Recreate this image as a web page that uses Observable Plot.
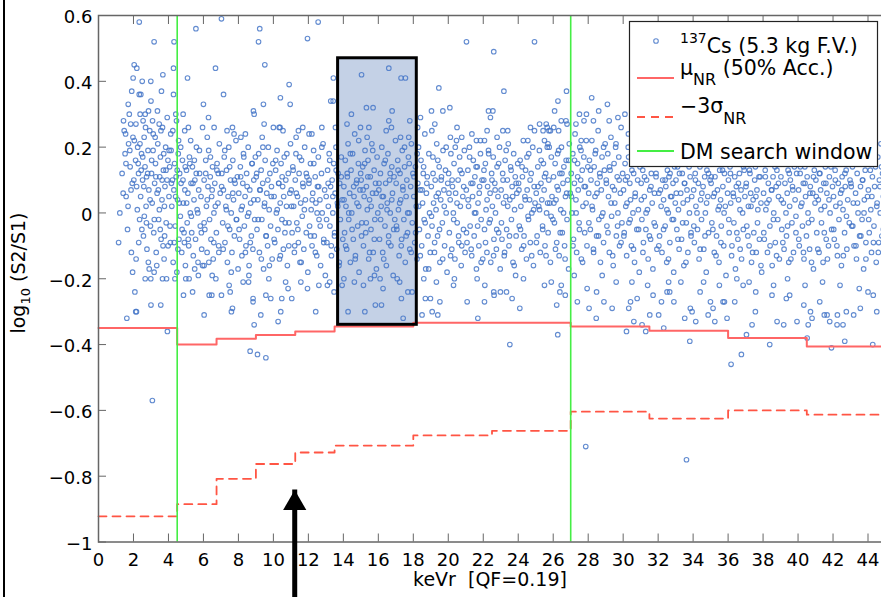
<!DOCTYPE html>
<html><head><meta charset="utf-8">
<script src="https://cdn.jsdelivr.net/npm/d3@7"></script>
<script src="https://cdn.jsdelivr.net/npm/@observablehq/plot@0.6"></script>
<style>
html,body{margin:0;padding:0;background:#fff;overflow:hidden;width:881px;height:597px}
#wrap{position:relative;width:881px;height:597px;overflow:hidden}
#chart{width:890px;height:597px}
#chart svg{display:block;max-width:none !important}
#overlay{position:absolute;left:0;top:0}
#leftrule{position:absolute;left:3px;top:0;width:2px;height:597px;background:#000}
</style></head>
<body><div id="wrap"><div id="chart"></div>
<svg id="overlay" width="881" height="597" font-family="DejaVu Sans, sans-serif">
  <text transform="translate(25,273) rotate(-90)" text-anchor="middle" font-size="19" fill="#000">log<tspan font-size="13" dy="5">10</tspan><tspan dy="-5"> (S2/S1)</tspan></text>
  <text x="490" y="586" text-anchor="middle" font-size="19" fill="#000" style="white-space:pre">keVr  [QF=0.19]</text>
  <g id="legend">
    <rect x="629.5" y="21.5" width="248" height="145" fill="#fff" stroke="#222" stroke-width="1.2"/>
    <circle cx="656" cy="41" r="2.3" fill="none" stroke="#4677c8" stroke-opacity="0.85" stroke-width="1.1"/>
    <text x="680" y="53" font-size="20.5" fill="#000"><tspan font-size="14" dy="-10">137</tspan><tspan dy="10">Cs (5.3 kg F.V.)</tspan></text>
    <line x1="637" x2="674" y1="78" y2="78" stroke="#ff6666" stroke-width="2"/>
    <text x="680" y="75" font-size="20.5" fill="#000">μ<tspan font-size="16" dy="10">NR</tspan><tspan dy="-10"> (50% Acc.)</tspan></text>
    <line x1="637" x2="674" y1="117" y2="117" stroke="#ff5544" stroke-width="1.8" stroke-dasharray="8,6"/>
    <text x="680" y="113" font-size="20.5" fill="#000">−3σ<tspan font-size="16" dy="11">NR</tspan></text>
    <line x1="637" x2="674" y1="151" y2="151" stroke="#44ee44" stroke-width="2"/>
    <text x="680" y="159" font-size="20.5" fill="#000">DM search window</text>
  </g>
</svg>
<div id="leftrule"></div></div>
<script>
// ---- data ----
const xTicks = [0,2,4,6,8,10,12,14,16,18,20,22,24,26,28,30,32,34,36,38,40,42,44];
const yTicks = [-1,-0.8,-0.6,-0.4,-0.2,0,0.2,0.4,0.6];
const binEdges = [0,4.5,6.75,9,11.25,13.5,18,22.5,27,31.5,36,40.5,45];
const muNR    = [-0.350,-0.400,-0.382,-0.371,-0.360,-0.345,-0.334,-0.334,-0.345,-0.358,-0.380,-0.406];
const sigmaNR = [-0.922,-0.885,-0.808,-0.763,-0.728,-0.707,-0.676,-0.662,-0.604,-0.625,-0.600,-0.613];
const dmWindow = [4.5, 27];
const boxX = [13.7, 18.2];
const boxY = [-0.34, 0.47];
const arrowX = 11.22, arrowTip = -0.842, arrowTail = -1.2;

const cs137 = [
[1.15,-.09],[1.22,.0],[1.43,.28],[1.47,.25],[1.62,-.32],[1.7,.33],[1.76,.3],[1.84,.27],[1.9,.37],[1.98,.41],[1.35,.12],[1.52,.18],[1.58,.05],[1.66,-.05],[1.72,.21],[1.81,.14],[1.88,-.12],[1.93,.09],[1.55,.24],[1.95,-.18],
[2.04,.45],[2.19,.44],[2.33,.58],[2.33,.36],[2.42,.36],[2.38,.3],[2.5,.4],[2.67,.3],[2.08,-.24],[2.17,-.3],[2.13,-.3],[2.67,-.2],[2.9,-.17],[2.05,.22],[2.12,.16],[2.18,.08],[2.24,.2],[2.29,.12],[2.35,-.02],[2.41,.05],[2.46,.18],[2.52,.1],[2.57,-.07],[2.61,.23],[2.66,.14],[2.72,.02],[2.77,-.11],[2.83,.19],[2.88,.07],[2.93,.25],[2.97,-.04],[2.15,-.14],[2.55,.28],[2.75,.11],[2.3,-.09],[2.85,-.15],[2.44,.13],[2.62,-.01],
[3.18,.52],[2.99,.4],[3.0,.34],[3.09,.28],[3.47,.27],[3.66,.26],[3.6,.37],[3.68,.42],[3.0,-.28],[3.56,-.28],[3.94,-.36],[3.08,-.57],[3.18,-.18],[2.99,-.2],[3.66,-.2],[3.89,-.2],[3.03,.12],[3.07,.03],[3.12,.19],[3.16,-.06],[3.21,.09],[3.26,.15],[3.3,-.12],[3.35,.06],[3.39,.21],[3.44,-.02],[3.5,.11],[3.54,.17],[3.58,-.08],[3.63,.04],[3.71,.13],[3.75,-.14],[3.8,.08],[3.84,.2],[3.87,-.03],[3.92,.1],[3.97,.16],[3.33,-.16],[3.48,.01],[3.77,.02],[3.24,.23],[3.69,-.1],
[4.29,.44],[4.32,.52],[4.29,.36],[4.42,.3],[4.46,.28],[4.84,.3],[4.93,.25],[4.86,-.25],[4.99,-.2],[4.03,.05],[4.07,.14],[4.11,-.09],[4.15,.19],[4.19,.02],[4.23,.1],[4.27,-.15],[4.31,.07],[4.35,.15],[4.39,-.04],[4.44,.11],[4.48,-.18],[4.52,.04],[4.56,.18],[4.6,-.08],[4.64,.12],[4.68,-.01],[4.72,.09],[4.76,-.12],[4.8,.16],[4.85,.03],[4.89,-.06],[4.94,.07],[4.97,-.16],[4.13,.24],[4.58,.22],[4.37,-.2],
[5.09,.41],[5.14,.26],[5.57,.56],[5.38,-.24],[5.18,-.2],[5.95,-.16],[5.95,.26],[5.03,.13],[5.07,-.03],[5.11,.06],[5.16,-.1],[5.2,.17],[5.25,.0],[5.29,.09],[5.33,-.06],[5.37,.14],[5.42,-.13],[5.46,.04],[5.51,.1],[5.55,-.08],[5.6,.2],[5.64,.01],[5.69,-.15],[5.73,.07],[5.78,.12],[5.82,-.04],[5.86,.05],[5.9,-.11],[5.27,.22],[5.71,-.19],[5.48,.16],
[6.0,.33],[6.29,.29],[6.61,.26],[6.69,.44],[6.04,-.31],[6.04,-.16],[6.33,-.25],[6.48,-.25],[6.71,-.2],[6.04,.1],[6.08,-.05],[6.13,.16],[6.17,.02],[6.21,-.12],[6.26,.08],[6.3,.19],[6.35,-.02],[6.39,.11],[6.43,-.08],[6.47,.05],[6.52,.14],[6.56,-.14],[6.6,.0],[6.65,.09],[6.74,-.06],[6.78,.15],[6.83,.03],[6.87,-.1],[6.91,.21],[6.96,.06],[6.22,.23],[6.5,-.19],[6.85,.12],
[7.03,.59],[7.15,.36],[7.66,.26],[7.03,-.25],[7.53,-.24],[7.66,-.29],[7.6,-.3],[7.47,-.22],[7.05,.12],[7.1,-.03],[7.14,.07],[7.19,.17],[7.23,-.09],[7.28,.02],[7.32,.13],[7.37,-.15],[7.41,.05],[7.45,.2],[7.5,-.05],[7.55,.1],[7.59,.0],[7.63,-.12],[7.68,.16],[7.72,.04],[7.77,-.07],[7.81,.09],[7.86,.22],[7.9,-.02],[7.94,.11],[7.98,-.17],[7.35,.25],[7.75,.24],
[8.14,.23],[8.86,.31],[8.9,.3],[8.27,-.21],[8.58,-.21],[8.84,-.26],[8.84,-.27],[8.9,-.34],[8.67,-.42],[8.02,.06],[8.07,-.08],[8.11,.14],[8.16,.01],[8.2,-.13],[8.25,.09],[8.29,.18],[8.34,-.04],[8.38,.05],[8.43,-.1],[8.47,.12],[8.52,-.01],[8.56,.2],[8.61,-.16],[8.65,.07],[8.7,.03],[8.74,-.07],[8.79,.15],[8.83,-.11],[8.88,.1],[8.93,-.02],[8.97,.17],[8.4,.24],[8.6,-.19],
[9.22,.56],[9.15,.52],[9.51,.45],[9.43,.33],[9.47,.27],[9.28,-.31],[9.57,-.25],[9.85,-.26],[9.09,-.43],[9.57,-.44],[9.02,.11],[9.06,-.05],[9.11,.04],[9.16,.18],[9.2,-.12],[9.25,.07],[9.3,.13],[9.34,-.02],[9.39,.09],[9.44,-.17],[9.48,.02],[9.53,.16],[9.58,-.07],[9.62,.06],[9.67,-.1],[9.71,.2],[9.76,.01],[9.8,.12],[9.84,-.04],[9.89,.08],[9.93,-.14],[9.97,.15],[9.36,.23],[9.74,-.2],
[10.0,.26],[10.33,.26],[10.38,.26],[10.4,.35],[10.9,.39],[10.96,.33],[10.27,-.33],[10.48,-.26],[10.84,-.23],[10.42,-.3],[10.04,.05],[10.08,-.09],[10.13,.13],[10.17,.0],[10.21,.19],[10.26,-.05],[10.3,.09],[10.35,-.14],[10.39,.03],[10.44,.15],[10.49,-.02],[10.53,.08],[10.57,-.11],[10.62,.17],[10.66,-.06],[10.71,.1],[10.75,.02],[10.8,-.16],[10.85,.12],[10.89,-.03],[10.94,.06],[10.98,.21],[10.55,.25],[10.7,-.21],
[11.43,.25],[11.95,.53],[11.05,-.26],[11.57,-.21],[11.95,-.23],[11.02,.07],[11.07,-.06],[11.11,.14],[11.16,.02],[11.2,-.12],[11.25,.1],[11.29,.18],[11.34,-.03],[11.38,.05],[11.43,-.09],[11.47,.12],[11.52,-.15],[11.56,.03],[11.61,.16],[11.65,-.01],[11.7,.08],[11.74,-.11],[11.79,.2],[11.83,.04],[11.88,-.06],[11.92,.11],[11.97,-.18],[11.3,.23],[11.68,.26],
[12.04,.24],[12.56,.58],[12.77,.26],[12.42,-.3],[12.03,.09],[12.07,-.04],[12.12,.15],[12.16,.01],[12.21,-.1],[12.25,.06],[12.3,.19],[12.34,-.07],[12.39,.11],[12.43,.03],[12.48,-.13],[12.52,.08],[12.57,.17],[12.61,-.02],[12.66,.04],[12.7,-.16],[12.75,.12],[12.79,.0],[12.84,.21],[12.88,-.08],[12.93,.07],[12.97,-.19],[12.2,.24],[12.6,-.22],
[13.28,.34],[13.43,.41],[13.42,.34],[13.22,-.21],[13.09,-.22],[13.47,-.24],[13.02,.05],[13.06,-.09],[13.1,.13],[13.14,.02],[13.19,.18],[13.23,-.04],[13.27,.08],[13.32,-.13],[13.36,.1],[13.4,.0],[13.45,.15],[13.49,-.07],[13.53,.06],[13.58,.2],[13.62,-.11],[13.66,.03],[13.7,.12],[13.75,-.16],[13.79,.09],[13.83,-.02],[13.88,.17],[13.93,.04],[13.97,-.08],[13.93,-.22],[13.55,.26],
[14.46,.3],[14.98,.26],[14.27,-.3],[14.03,-.2],[14.03,.08],[14.07,-.06],[14.11,.16],[14.15,.02],[14.19,-.11],[14.23,.11],[14.27,.21],[14.31,-.02],[14.36,.06],[14.4,-.15],[14.44,.13],[14.48,.0],[14.53,.18],[14.57,-.08],[14.61,.05],[14.65,.24],[14.69,-.13],[14.74,.09],[14.78,.03],[14.82,-.04],[14.86,.15],[14.9,-.18],[14.95,.07],[14.99,.12],[14.21,.27],[14.63,-.21],[14.88,.22],
[15.04,.42],[15.32,.32],[15.7,.32],[15.36,.23],[15.23,-.3],[15.55,-.2],[15.78,-.19],[15.83,-.28],[16.18,-.28],[15.02,.1],[15.06,-.03],[15.11,.14],[15.15,-.1],[15.19,.05],[15.24,.19],[15.28,-.06],[15.32,.08],[15.37,.01],[15.41,.16],[15.45,-.14],[15.5,.04],[15.54,.11],[15.58,-.05],[15.63,.21],[15.67,.06],[15.71,-.12],[15.76,.13],[15.8,-.02],[15.84,.09],[15.89,-.17],[15.93,.17],[15.97,.0],[15.46,.26],[15.15,-.22],
[16.6,.44],[16.79,.31],[16.6,.28],[16.75,.26],[16.27,-.23],[16.03,.07],[16.07,-.08],[16.12,.12],[16.16,.02],[16.2,.2],[16.25,-.12],[16.29,.05],[16.33,.15],[16.38,-.04],[16.42,.09],[16.46,-.16],[16.51,.03],[16.55,.18],[16.59,-.07],[16.64,.1],[16.68,.0],[16.72,-.1],[16.77,.14],[16.81,.06],[16.85,-.19],[16.9,.11],[16.94,-.02],[16.98,.22],[16.45,.25],[16.1,-.2],
[17.3,.41],[17.55,.41],[17.8,.28],[17.27,.23],[17.74,.23],[17.42,-.32],[17.32,-.26],[17.08,-.2],[17.22,-.21],[17.69,-.24],[17.93,-.24],[17.02,.09],[17.06,-.05],[17.11,.16],[17.15,.01],[17.19,-.13],[17.24,.12],[17.28,.04],[17.33,-.08],[17.37,.19],[17.41,.07],[17.46,-.02],[17.5,.14],[17.54,-.15],[17.59,.05],[17.63,.1],[17.67,-.06],[17.72,.17],[17.76,.0],[17.8,-.11],[17.85,.08],[17.89,.21],[17.94,-.03],[17.98,.12],
[18.41,.29],[18.5,-.31],[18.69,-.26],[18.98,-.26],[18.03,.05],[18.08,-.09],[18.12,.14],[18.17,.02],[18.21,-.14],[18.26,.09],[18.3,.2],[18.35,-.05],[18.39,.07],[18.44,.16],[18.48,-.1],[18.53,.03],[18.57,.12],[18.62,-.02],[18.66,.24],[18.71,-.17],[18.75,.06],[18.8,.11],[18.84,-.07],[18.89,.18],[18.93,.0],[18.97,-.12],[18.25,.26],[18.6,-.2],
[19.04,.31],[19.23,.27],[19.06,.25],[19.46,.38],[19.69,.31],[19.08,-.3],[19.4,-.31],[19.52,-.27],[19.32,-.21],[19.03,.08],[19.07,-.04],[19.12,.17],[19.16,.03],[19.21,-.12],[19.25,.1],[19.3,.01],[19.34,.21],[19.39,-.07],[19.43,.06],[19.48,.14],[19.52,-.15],[19.57,.04],[19.61,.11],[19.66,-.03],[19.7,.19],[19.75,.07],[19.79,-.1],[19.84,.13],[19.88,.0],[19.93,-.18],[19.97,.09],
[20.09,.32],[20.12,.23],[20.77,.23],[20.3,-.22],[20.02,.12],[20.06,-.06],[20.11,.04],[20.15,.18],[20.2,-.11],[20.24,.08],[20.29,.0],[20.33,.15],[20.38,-.14],[20.42,.06],[20.47,.22],[20.51,-.03],[20.56,.1],[20.6,-.09],[20.65,.17],[20.69,.02],[20.74,-.16],[20.78,.12],[20.83,.05],[20.87,-.05],[20.92,.19],[20.96,-.12],[20.5,.26],[20.35,-.2],
[21.04,.52],[21.61,.22],[21.84,.22],[21.08,-.27],[21.69,-.32],[21.65,-.2],[21.03,.07],[21.07,-.09],[21.12,.13],[21.16,.02],[21.21,.2],[21.25,-.04],[21.3,.09],[21.34,-.13],[21.39,.05],[21.43,.16],[21.48,-.07],[21.52,.11],[21.57,.0],[21.61,-.17],[21.66,.14],[21.7,.03],[21.75,-.1],[21.79,.08],[21.84,.18],[21.88,-.02],[21.93,.1],[21.97,-.14],[21.35,.24],
[22.6,.49],[22.3,.31],[22.55,.31],[22.41,.29],[22.07,.22],[22.22,.25],[22.79,.23],[22.07,-.27],[22.6,-.24],[22.62,-.25],[22.09,-.22],[22.03,.1],[22.07,-.05],[22.12,.15],[22.16,.01],[22.21,-.12],[22.25,.08],[22.3,.19],[22.34,-.03],[22.39,.06],[22.43,-.15],[22.48,.12],[22.52,.02],[22.57,.17],[22.61,-.08],[22.66,.09],[22.7,.0],[22.75,-.11],[22.79,.14],[22.84,.05],[22.88,-.06],[22.93,.2],[22.97,-.17],
[23.18,.37],[23.12,.25],[23.65,-.26],[23.52,-.4],[22.98,-.24],[23.33,-.24],[23.02,.07],[23.07,-.08],[23.11,.12],[23.16,.03],[23.2,-.13],[23.25,.16],[23.29,.05],[23.34,-.05],[23.38,.1],[23.43,.21],[23.47,-.1],[23.52,.04],[23.56,.14],[23.61,-.02],[23.65,.08],[23.7,-.15],[23.74,.18],[23.79,.01],[23.83,.11],[23.88,-.07],[23.92,.06],[23.97,.15],[23.4,.25],[23.85,-.19],
[24.93,.52],[24.93,.25],[24.55,.22],[24.09,-.29],[24.02,.09],[24.06,-.04],[24.11,.16],[24.15,.02],[24.2,-.11],[24.24,.11],[24.29,.22],[24.33,-.07],[24.38,.05],[24.42,.13],[24.47,-.14],[24.51,.07],[24.56,-.01],[24.6,.18],[24.65,.04],[24.69,-.09],[24.74,.12],[24.78,.0],[24.83,.2],[24.87,-.16],[24.91,.08],[24.96,.03],[24.3,-.2],[24.7,.26],
[25.22,.27],[25.6,.27],[25.66,.26],[25.84,.25],[25.42,.25],[25.76,.25],[25.5,.22],[25.7,.21],[25.5,-.22],[25.89,-.21],[25.03,.06],[25.08,-.07],[25.12,.14],[25.17,.02],[25.21,.19],[25.26,-.12],[25.3,.09],[25.35,.04],[25.39,-.04],[25.44,.15],[25.48,.07],[25.53,-.1],[25.57,.12],[25.62,.0],[25.66,.2],[25.71,-.06],[25.75,.1],[25.8,.03],[25.84,-.15],[25.89,.17],[25.93,.05],[25.98,-.02],
[26.76,.37],[26.27,.34],[26.08,.31],[26.46,.28],[26.03,.26],[26.73,.28],[26.79,.27],[26.31,.25],[26.2,-.28],[26.26,-.37],[26.46,-.22],[26.69,-.25],[26.38,-.24],[26.02,.11],[26.07,-.03],[26.11,.15],[26.16,.04],[26.2,-.09],[26.25,.18],[26.29,.07],[26.34,-.13],[26.38,.12],[26.43,.01],[26.47,.2],[26.52,-.06],[26.56,.09],[26.61,.14],[26.65,-.1],[26.7,.05],[26.74,.16],[26.79,-.02],[26.83,.1],[26.88,-.17],[26.92,.21],[26.97,.06],
[27.38,-.27],[27.86,-.71],[27.94,-.23],[27.76,.28],[27.03,.12],[27.07,.0],[27.12,.18],[27.16,-.08],[27.21,.09],[27.25,.24],[27.3,.04],[27.34,-.12],[27.39,.15],[27.43,.07],[27.48,-.03],[27.52,.2],[27.57,.1],[27.61,-.14],[27.66,.13],[27.7,.02],[27.75,.17],[27.8,-.06],[27.84,.08],[27.89,.22],[27.93,-.1],[27.98,.14],[27.5,.3],[27.2,-.19],[27.3,.27],[27.9,.3],[27.6,.22],
[28.46,-.32],[28.48,-.24],[28.9,-.27],[28.05,-.29],[28.03,.06],[28.07,.16],[28.12,-.05],[28.16,.1],[28.21,.22],[28.25,.01],[28.3,-.11],[28.34,.14],[28.39,.05],[28.43,.19],[28.48,-.07],[28.52,.09],[28.57,.25],[28.61,-.02],[28.66,.12],[28.7,-.15],[28.75,.07],[28.79,.17],[28.84,.0],[28.88,-.09],[28.93,.13],[28.97,.21],[28.3,.28],[28.8,-.19],[28.6,.31],[28.2,.35],
[29.37,-.29],[29.03,.1],[29.07,-.04],[29.12,.18],[29.16,.05],[29.21,-.12],[29.25,.13],[29.3,.23],[29.34,-.01],[29.39,.08],[29.43,-.16],[29.48,.15],[29.52,.03],[29.57,.2],[29.61,-.07],[29.66,.11],[29.7,.0],[29.75,.17],[29.79,-.1],[29.84,.06],[29.88,.26],[29.93,-.03],[29.97,.12],[29.6,-.21],[29.2,.28],[29.1,.33],[29.7,.29],
[30.61,-.33],[30.19,-.36],[30.32,-.29],[30.42,-.27],[30.8,-.26],[30.02,.07],[30.06,-.06],[30.11,.15],[30.15,.02],[30.2,-.13],[30.24,.11],[30.29,.2],[30.33,-.03],[30.38,.09],[30.42,.04],[30.47,-.1],[30.51,.16],[30.56,.0],[30.6,.12],[30.65,-.15],[30.69,.06],[30.74,.19],[30.78,-.05],[30.83,.1],[30.87,.01],[30.92,-.18],[30.96,.14],[30.5,-.21],[30.3,.24],[30.1,.3],
[31.08,-.34],[31.29,-.36],[31.52,-.31],[31.71,-.25],[31.03,.09],[31.07,-.02],[31.12,.13],[31.16,-.09],[31.21,.05],[31.25,.18],[31.3,-.05],[31.34,.1],[31.39,.01],[31.43,-.14],[31.48,.15],[31.52,.07],[31.57,-.08],[31.61,.12],[31.66,.03],[31.7,-.17],[31.75,.2],[31.79,.06],[31.84,-.04],[31.88,.11],[31.93,-.11],[31.97,.16],[31.4,-.22],
[32.32,-.35],[32.03,-.31],[32.51,-.24],[32.66,-.24],[32.19,-.27],[32.9,-.27],[32.04,.06],[32.08,-.07],[32.13,.17],[32.17,.02],[32.22,-.12],[32.26,.1],[32.31,.04],[32.35,.19],[32.4,-.04],[32.44,.08],[32.49,-.15],[32.53,.13],[32.58,.0],[32.62,.11],[32.67,-.09],[32.71,.05],[32.76,.16],[32.8,-.02],[32.85,.09],[32.89,-.18],[32.94,.14],[32.98,.03],[32.6,-.21],
[33.81,-.39],[33.52,-.32],[33.94,-.3],[33.84,-.29],[33.62,-.75],[33.02,.1],[33.07,-.05],[33.11,.14],[33.16,.01],[33.2,-.11],[33.25,.18],[33.29,.06],[33.34,-.08],[33.38,.12],[33.43,.03],[33.47,-.16],[33.52,.09],[33.56,.2],[33.61,-.03],[33.65,.07],[33.7,-.12],[33.74,.15],[33.79,.0],[33.83,.11],[33.88,-.07],[33.92,.05],[33.97,.17],[33.3,-.21],
[34.15,-.33],[34.4,-.24],[34.86,-.31],[34.99,-.27],[34.03,.07],[34.07,-.09],[34.12,.12],[34.16,.02],[34.21,.19],[34.25,-.05],[34.3,.09],[34.34,-.14],[34.39,.14],[34.43,.04],[34.48,-.02],[34.52,.16],[34.57,.08],[34.61,-.11],[34.66,.11],[34.7,.0],[34.75,-.18],[34.79,.13],[34.84,.05],[34.88,-.06],[34.93,.18],[34.97,.1],[34.6,-.21],
[35.24,-.33],[35.14,-.29],[35.71,-.27],[35.79,-.27],[35.94,-.32],[35.03,.09],[35.07,-.03],[35.12,.15],[35.16,.05],[35.21,-.12],[35.25,.11],[35.3,.19],[35.34,-.07],[35.39,.07],[35.43,.01],[35.48,-.15],[35.52,.13],[35.57,.04],[35.61,-.04],[35.66,.17],[35.7,.08],[35.75,-.1],[35.79,.12],[35.84,.02],[35.88,-.19],[35.93,.15],[35.97,.06],[35.5,-.22],
[36.17,-.46],[36.76,-.43],[36.38,-.27],[36.86,-.22],[36.02,.1],[36.06,-.06],[36.11,.14],[36.15,.03],[36.2,-.13],[36.24,.18],[36.29,.06],[36.33,-.03],[36.38,.11],[36.42,-.17],[36.47,.08],[36.51,.16],[36.56,-.08],[36.6,.04],[36.65,.12],[36.69,-.11],[36.74,.07],[36.78,.2],[36.83,.0],[36.87,-.05],[36.92,.13],[36.96,.05],[36.5,-.2],
[37.05,-.37],[37.37,-.34],[37.56,-.3],[37.58,-.24],[37.02,.08],[37.07,-.04],[37.11,.16],[37.16,.02],[37.2,-.1],[37.25,.12],[37.29,.06],[37.34,-.15],[37.38,.19],[37.43,.04],[37.47,-.06],[37.52,.1],[37.56,.14],[37.61,-.12],[37.65,.07],[37.7,.01],[37.74,.17],[37.79,-.08],[37.83,.11],[37.88,.03],[37.92,-.18],[37.97,.15],[37.2,-.21],
[38.38,-.4],[38.8,-.33],[38.51,-.25],[38.03,.06],[38.07,-.08],[38.12,.13],[38.16,.01],[38.21,.18],[38.25,-.12],[38.3,.09],[38.34,.04],[38.39,-.04],[38.43,.15],[38.48,.07],[38.52,-.16],[38.57,.11],[38.61,.0],[38.66,.2],[38.7,-.09],[38.75,.08],[38.79,.13],[38.84,-.02],[38.88,.05],[38.93,-.14],[38.97,.17],[38.6,-.22],
[39.18,-.34],[39.94,-.33],[39.33,-.26],[39.52,-.25],[39.02,.11],[39.07,-.05],[39.11,.15],[39.16,.03],[39.2,-.11],[39.25,.09],[39.29,.19],[39.34,-.07],[39.38,.06],[39.43,.13],[39.47,-.15],[39.52,.02],[39.56,.1],[39.61,.17],[39.65,-.03],[39.7,.07],[39.74,-.12],[39.79,.14],[39.83,.04],[39.88,-.06],[39.92,.12],[39.97,.2],[39.4,-.2],
[40.52,-.38],[40.58,-.34],[40.8,-.32],[40.33,-.28],[40.71,-.3],[40.03,.07],[40.07,-.1],[40.12,.12],[40.16,.02],[40.21,.17],[40.25,-.04],[40.3,.09],[40.34,-.14],[40.39,.14],[40.43,.05],[40.48,-.07],[40.52,.11],[40.57,.0],[40.61,.19],[40.66,-.11],[40.7,.08],[40.75,.15],[40.79,-.02],[40.84,.06],[40.88,-.17],[40.93,.13],[40.97,.03],[40.4,-.22],
[41.91,-.41],[41.5,-.31],[41.66,-.31],[41.81,-.33],[41.24,-.27],[41.02,.1],[41.07,-.06],[41.11,.16],[41.16,.04],[41.2,-.12],[41.25,.12],[41.29,.07],[41.34,-.03],[41.38,.18],[41.43,-.15],[41.47,.09],[41.52,.02],[41.56,.14],[41.61,-.08],[41.65,.06],[41.7,.2],[41.74,-.1],[41.79,.11],[41.83,.0],[41.88,.15],[41.92,-.05],[41.97,.08],[41.4,-.21],
[42.67,-.39],[42.57,-.34],[42.23,-.34],[42.25,-.31],[42.76,-.3],[42.03,.05],[42.07,-.08],[42.12,.13],[42.16,.02],[42.21,.19],[42.25,-.13],[42.3,.09],[42.34,-.02],[42.39,.15],[42.43,.06],[42.48,-.16],[42.52,.11],[42.57,.01],[42.61,.17],[42.66,-.06],[42.7,.08],[42.75,.13],[42.79,-.11],[42.84,.04],[42.88,.2],[42.93,-.03],[42.97,.1],[42.4,-.22],
[43.18,-.31],[43.56,-.29],[43.02,.09],[43.07,-.04],[43.11,.14],[43.16,.03],[43.2,-.1],[43.25,.17],[43.29,.06],[43.34,-.14],[43.38,.12],[43.43,.0],[43.47,.2],[43.52,-.07],[43.57,.08],[43.61,.15],[43.66,-.02],[43.7,.1],[43.75,-.17],[43.79,.04],[43.84,.13],[43.88,-.09],[43.93,.18],[43.97,.05],[43.5,-.23],
[44.0,-.24],[44.3,-.25],[44.5,-.3],[44.27,-.4],[44.02,.07],[44.07,-.06],[44.11,.15],[44.16,.01],[44.2,-.12],[44.25,.11],[44.29,.19],[44.34,-.04],[44.38,.08],[44.43,.14],[44.47,-.15],[44.52,.03],[44.56,.17],[44.61,-.09],[44.65,.1],[44.7,.0],[44.74,.21],[44.79,-.07],[44.83,.12],[44.88,.05],[44.92,-.18],[44.97,.16]
];

// second pass of points
const cs137core = [
[1.41,.06],[1.57,.15],[1.69,.02],[1.79,.19],[1.86,.07],[1.97,.23],
[2.02,.1],[2.14,.27],[2.22,.01],[2.27,.15],[2.37,.21],[2.48,-.05],[2.53,.17],[2.59,.08],[2.69,.26],[2.74,-.03],[2.81,.12],[2.86,.31],[2.95,.04],
[3.04,.16],[3.13,.24],[3.19,-.02],[3.28,.11],[3.37,.31],[3.42,.07],[3.53,-.05],[3.57,.25],[3.64,.1],[3.73,.18],[3.78,-.07],[3.86,.13],[3.93,.29],[3.98,-.1],
[4.04,.19],[4.09,-.04],[4.17,.09],[4.25,.25],[4.33,-.09],[4.41,.05],[4.5,.13],[4.54,-.11],[4.62,.03],[4.7,.2],[4.78,-.05],[4.83,.1],[4.91,-.09],[4.96,.14],
[5.04,.03],[5.13,-.08],[5.22,.15],[5.31,-.01],[5.4,.09],[5.5,-.17],[5.59,.12],[5.68,.0],[5.77,.19],[5.88,-.06],
[6.04,-.03],[6.13,.12],[6.22,.04],[6.31,-.15],[6.4,.17],[6.5,.07],[6.59,-.09],[6.68,.02],[6.77,.13],[6.88,-.12],
[7.04,.08],[7.13,-.11],[7.22,.19],[7.31,.01],[7.4,-.04],[7.5,.14],[7.59,-.18],[7.68,.06],[7.77,.1],[7.88,-.02],
[8.04,-.05],[8.13,.11],[8.22,.02],[8.31,.17],[8.4,-.12],[8.5,.08],[8.59,.0],[8.68,-.09],[8.77,.15],[8.88,.04],
[9.04,.12],[9.13,-.02],[9.22,.07],[9.31,-.14],[9.4,.2],[9.5,.03],[9.59,-.07],[9.68,.1],[9.77,-.16],[9.88,.05],
[10.04,-.08],[10.13,.16],[10.22,.01],[10.31,.09],[10.4,-.13],[10.5,.11],[10.59,.05],[10.68,-.03],[10.77,.18],[10.88,-.1],
[11.04,.02],[11.13,.13],[11.22,-.1],[11.31,.06],[11.4,-.05],[11.5,.17],[11.59,-.15],[11.68,.09],[11.77,.01],[11.88,.12],
[12.04,.1],[12.13,-.07],[12.22,.04],[12.31,.15],[12.4,-.12],[12.5,.0],[12.59,.08],[12.68,-.04],[12.77,.2],[12.88,-.09],
[13.04,-.02],[13.13,.09],[13.22,.16],[13.31,-.1],[13.4,.05],[13.5,-.06],[13.59,.13],[13.68,.02],[13.77,-.15],[13.88,.11],
[14.04,.04],[14.13,-.1],[14.22,.12],[14.31,.0],[14.4,.18],[14.5,-.05],[14.59,.08],[14.68,-.14],[14.77,.1],[14.88,.02],
[15.04,-.07],[15.13,.07],[15.22,.15],[15.31,-.03],[15.4,.11],[15.5,-.12],[15.59,.02],[15.68,.19],[15.77,-.08],[15.88,.06],
[16.04,.09],[16.13,-.02],[16.22,.05],[16.31,-.14],[16.4,.16],[16.5,.01],[16.59,-.09],[16.68,.12],[16.77,.04],[16.88,-.05],
[17.04,-.04],[17.13,.13],[17.22,.03],[17.31,-.1],[17.4,.08],[17.5,.2],[17.59,-.07],[17.68,.0],[17.77,.15],[17.88,-.12],
[18.04,.11],[18.13,-.06],[18.22,.18],[18.31,.02],[18.4,-.13],[18.5,.07],[18.59,.14],[18.68,-.03],[18.77,.09],[18.88,-.17],
[19.04,-.01],[19.13,.12],[19.22,-.09],[19.31,.05],[19.4,.16],[19.5,-.05],[19.59,.1],[19.68,-.14],[19.77,.02],[19.88,.2],
[20.04,.06],[20.13,-.13],[20.22,.1],[20.31,-.02],[20.4,.2],[20.5,.03],[20.59,-.07],[20.68,.13],[20.77,-.1],[20.88,.08],
[21.04,-.06],[21.13,.04],[21.22,.17],[21.31,-.11],[21.4,.09],[21.5,.0],[21.59,.14],[21.68,-.04],[21.77,.06],[21.88,-.15],
[22.04,.13],[22.13,-.09],[22.22,.04],[22.31,.18],[22.4,-.02],[22.5,.1],[22.59,-.13],[22.68,.07],[22.77,-.05],[22.88,.15],
[23.04,-.03],[23.13,.1],[23.22,-.12],[23.31,.19],[23.4,.02],[23.5,-.07],[23.59,.13],[23.68,.05],[23.77,-.16],[23.88,.09],
[24.04,.07],[24.13,-.05],[24.22,.14],[24.31,-.1],[24.4,.04],[24.5,.17],[24.59,-.02],[24.68,.1],[24.77,-.13],[24.88,.01],
[25.04,-.09],[25.13,.08],[25.22,.01],[25.31,.16],[25.4,-.05],[25.5,.11],[25.59,-.13],[25.68,.03],[25.77,.2],[25.88,-.01],
[26.04,.03],[26.13,-.11],[26.22,.08],[26.31,.19],[26.4,-.06],[26.5,.12],[26.59,.0],[26.68,-.14],[26.77,.06],[26.88,.16],
[27.04,.05],[27.13,-.1],[27.22,.16],[27.31,.0],[27.4,.11],[27.5,-.05],[27.59,.19],[27.68,-.15],[27.77,.08],[27.88,.03],
[28.04,-.03],[28.13,.13],[28.22,.02],[28.31,-.12],[28.4,.18],[28.5,.06],[28.59,-.07],[28.68,.11],[28.77,-.01],[28.88,.2],
[29.04,.09],[29.13,-.06],[29.22,.14],[29.31,.03],[29.4,-.13],[29.5,.07],[29.59,.21],[29.68,-.04],[29.77,.1],[29.88,-.09],
[30.04,-.07],[30.13,.1],[30.22,.03],[30.31,.17],[30.4,-.02],[30.5,.13],[30.59,-.11],[30.68,.05],[30.77,.19],[30.88,-.05],
[31.04,.04],[31.13,-.12],[31.22,.11],[31.31,.0],[31.4,.16],[31.5,-.07],[31.59,.08],[31.68,.2],[31.77,-.03],[31.88,.12],
[32.04,-.1],[32.13,.07],[32.22,.15],[32.31,-.05],[32.4,.1],[32.5,.01],[32.59,-.14],[32.68,.12],[32.77,.05],[32.88,-.02],
[33.04,.06],[33.13,-.08],[33.22,.12],[33.31,.19],[33.4,-.03],[33.5,.09],[33.59,-.15],[33.68,.04],[33.77,.14],[33.88,-.06],
[34.04,-.04],[34.13,.1],[34.22,.0],[34.31,.15],[34.4,-.11],[34.5,.06],[34.59,.18],[34.68,-.07],[34.77,.03],[34.88,.12],
[35.04,.11],[35.13,-.05],[35.22,.06],[35.31,-.13],[35.4,.16],[35.5,.02],[35.59,-.09],[35.68,.13],[35.77,.0],[35.88,.19],
[36.04,-.02],[36.13,.12],[36.22,-.1],[36.31,.05],[36.4,.17],[36.5,-.06],[36.59,.09],[36.68,.01],[36.77,-.14],[36.88,.14],
[37.04,.09],[37.13,-.07],[37.22,.13],[37.31,.02],[37.4,-.12],[37.5,.18],[37.59,.05],[37.68,-.03],[37.77,.11],[37.88,-.16],
[38.04,-.06],[38.13,.11],[38.22,.03],[38.31,.16],[38.4,-.1],[38.5,.07],[38.59,-.02],[38.68,.14],[38.77,-.13],[38.88,.09],
[39.04,.04],[39.13,-.09],[39.22,.16],[39.31,.0],[39.4,-.04],[39.5,.12],[39.59,-.14],[39.68,.08],[39.77,.19],[39.88,-.01],
[40.04,-.08],[40.13,.14],[40.22,.03],[40.31,-.12],[40.4,.09],[40.5,.18],[40.59,-.03],[40.68,.06],[40.77,-.15],[40.88,.11],
[41.04,.05],[41.13,-.11],[41.22,.12],[41.31,.01],[41.4,.17],[41.5,-.06],[41.59,.09],[41.68,-.14],[41.77,.04],[41.88,.14],
[42.04,-.05],[42.13,.1],[42.22,-.1],[42.31,.16],[42.4,.03],[42.5,.07],[42.59,-.13],[42.68,.12],[42.77,-.01],[42.88,.19],
[43.04,.08],[43.13,-.04],[43.22,.15],[43.31,-.1],[43.4,.03],[43.5,.19],[43.59,-.07],[43.68,.1],[43.77,.0],[43.88,-.14],
[44.04,-.02],[44.13,.13],[44.22,.05],[44.31,-.09],[44.4,.17],[44.5,.02],[44.59,-.12],[44.68,.08],[44.77,.14],[44.88,-.05]
];
const allPoints = cs137.concat(cs137core);

// ---- build step series ----
function steps(vals) {
  const pts = vals.map((v, i) => ({x: binEdges[i], y: v}));
  pts.push({x: binEdges[binEdges.length - 1], y: vals[vals.length - 1]});
  return pts;
}
const fmt = d => d === 0 ? "0" : (d < 0 ? "\u2212" : "") + Math.abs(d);
const gray = "#666";

const chart = Plot.plot({
  width: 890, height: 597,
  marginLeft: 98, marginRight: 5, marginTop: 15, marginBottom: 55.5,
  style: {fontFamily: "DejaVu Sans, sans-serif", background: "transparent", overflow: "visible", maxWidth: "none"},
  x: {domain: [0, 45]},
  y: {domain: [-1, 0.6]},
  marks: [
    Plot.rect([0], {x1: () => boxX[0], x2: () => boxX[1], y1: () => boxY[0], y2: () => boxY[1], fill: "#c4d1e6"}),
    Plot.dot(allPoints, {x: d => d[0], y: d => d[1], r: 2.3, fill: "none", stroke: "#4677c8", strokeOpacity: 0.85, strokeWidth: 1.1}),
    Plot.line(steps(muNR), {x: "x", y: "y", curve: "step-after", stroke: "#ff6666", strokeWidth: 2}),
    Plot.line(steps(sigmaNR), {x: "x", y: "y", curve: "step-after", stroke: "#ff5544", strokeWidth: 1.8, strokeDasharray: "8,6"}),
    Plot.ruleX(dmWindow, {stroke: "#44ee44", strokeWidth: 1.6}),
    Plot.rect([0], {x1: () => boxX[0], x2: () => boxX[1], y1: () => boxY[0], y2: () => boxY[1], fill: "none", stroke: "#000", strokeWidth: 3}),
    Plot.frame({stroke: gray, strokeWidth: 1.5}),
    Plot.axisX({anchor: "bottom", ticks: xTicks, tickSize: -8, stroke: gray, fill: "none", label: null}),
    Plot.axisX({anchor: "top", ticks: xTicks, tickSize: -8, stroke: gray, fill: "none", label: null}),
    Plot.axisY({anchor: "left", ticks: yTicks, tickSize: -8, stroke: gray, fill: "none", label: null}),
    Plot.axisX({anchor: "bottom", ticks: xTicks, tickSize: 0, tickPadding: 11, tickFormat: fmt, fontSize: 18, fill: "#000", label: null}),
    Plot.axisY({anchor: "left", ticks: yTicks, tickSize: 0, tickPadding: 6, dy: 2, tickFormat: fmt, fontSize: 18, fill: "#000", label: null}),
    Plot.ruleX([arrowX], {y1: arrowTail, y2: arrowTip, insetTop: 12, stroke: "#000", strokeWidth: 5}),
    Plot.dot([arrowX], {x: d => d, y: () => arrowTip, symbol: "triangle", r: 8.6, fill: "#000", stroke: "none", dy: 13.3})
  ]
});
document.getElementById("chart").appendChild(chart);
</script>
</body></html>
